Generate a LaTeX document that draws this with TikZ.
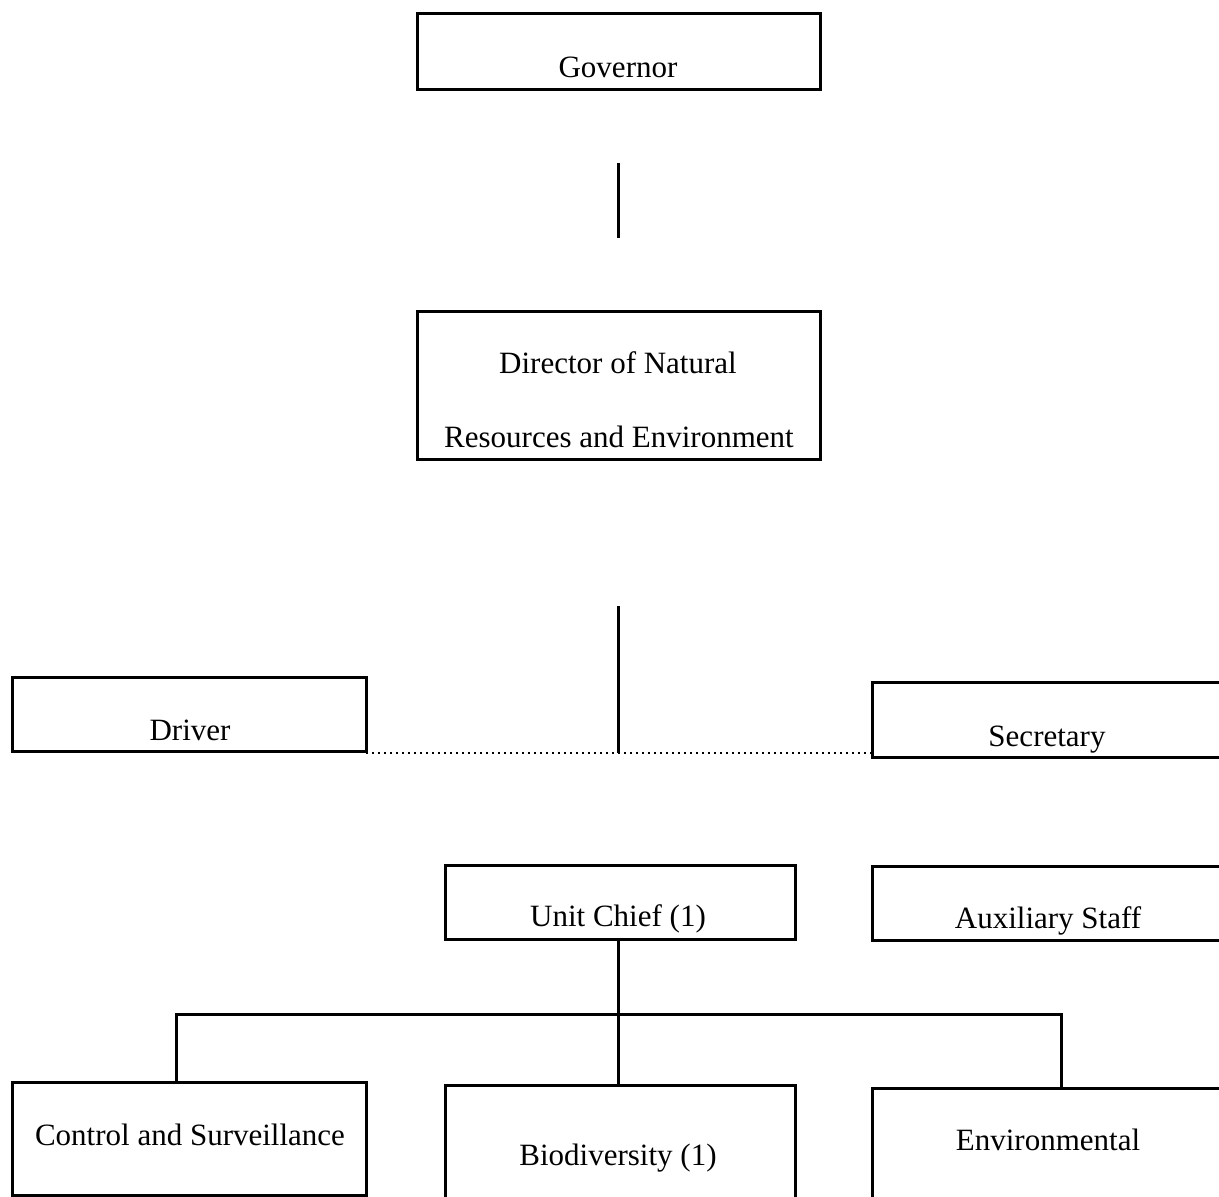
\documentclass[tikz,border=0pt]{standalone}
\usepackage{fontspec}
\setmainfont{Liberation Serif}
\begin{document}
\begin{tikzpicture}[x=0.5pt,y=-0.5pt,
  box/.style={draw, line width=1.5pt, inner sep=0pt, outer sep=0pt},
  lbl/.style={anchor=base, inner sep=0pt, font=\fontsize{15.5}{18}\selectfont},
  conn/.style={line width=1.5pt},
  dotline/.style={line width=1.4pt, dash pattern=on 1.2pt off 1.8pt}]
\useasboundingbox (0,0) rectangle (1219,1197);
\clip (0,0) rectangle (1219,1197);
\fill[white] (0,0) rectangle (1219,1197);
% boxes
\node[box, minimum width=201.5pt, minimum height=38pt] (gov) at (618.5,52) {};
\node[box, minimum width=201.5pt, minimum height=73.5pt] (dir) at (618.5,385.5) {};
\node[box, minimum width=177pt, minimum height=37pt] (driver) at (189,714) {};
\node[box, minimum width=184pt, minimum height=37.5pt] (sec) at (1056,719.5) {};
\node[box, minimum width=175pt, minimum height=37pt] (unit) at (620,902) {};
\node[box, minimum width=184pt, minimum height=37pt] (aux) at (1056,903) {};
\node[box, minimum width=177pt, minimum height=56.5pt] (ctrl) at (189,1138.5) {};
\node[box, minimum width=175pt, minimum height=72.5pt] (bio) at (620,1157.5) {};
\node[box, minimum width=184pt, minimum height=71pt] (env) at (1056,1159) {};
% labels
\node[lbl] (govt) at (618,78) {Governor};
\node[lbl] (dirt1) at (618,374) {Director of Natural};
\node[lbl] (dirt2) at (619,447) {Resources and Environment};
\node[lbl] (drivert) at (190,740) {Driver};
\node[lbl] (sect) at (1047,746) {Secretary};
\node[lbl] (unitt) at (618,926) {Unit Chief (1)};
\node[lbl] (auxt) at (1048,928) {Auxiliary Staff};
\node[lbl] (ctrlt) at (190,1145) {Control and Surveillance};
\node[lbl] (biot) at (618,1165) {Biodiversity (1)};
\node[lbl] (envt) at (1048,1150) {Environmental};
% connectors
\coordinate (c1a) at (618,163);
\coordinate (c1b) at (618,238);
\coordinate (c2a) at (618,606);
\coordinate (j1) at (618,753);
\coordinate (j2) at (618,1014);
\coordinate (h1) at (176,1014);
\coordinate (h2) at (1061,1014);
\draw[conn] (c1a) -- (c1b);
\draw[conn] (c2a) -- (j1);
\draw[dotline] (driver.east |- j1) -- (sec.west |- j1);
\draw[conn] (unit.south -| j2) -- (bio.north -| j2);
\draw[conn] (ctrl.north -| h1) -- (h1) -- (h2) -- (env.north -| h2);
\end{tikzpicture}
\end{document}
